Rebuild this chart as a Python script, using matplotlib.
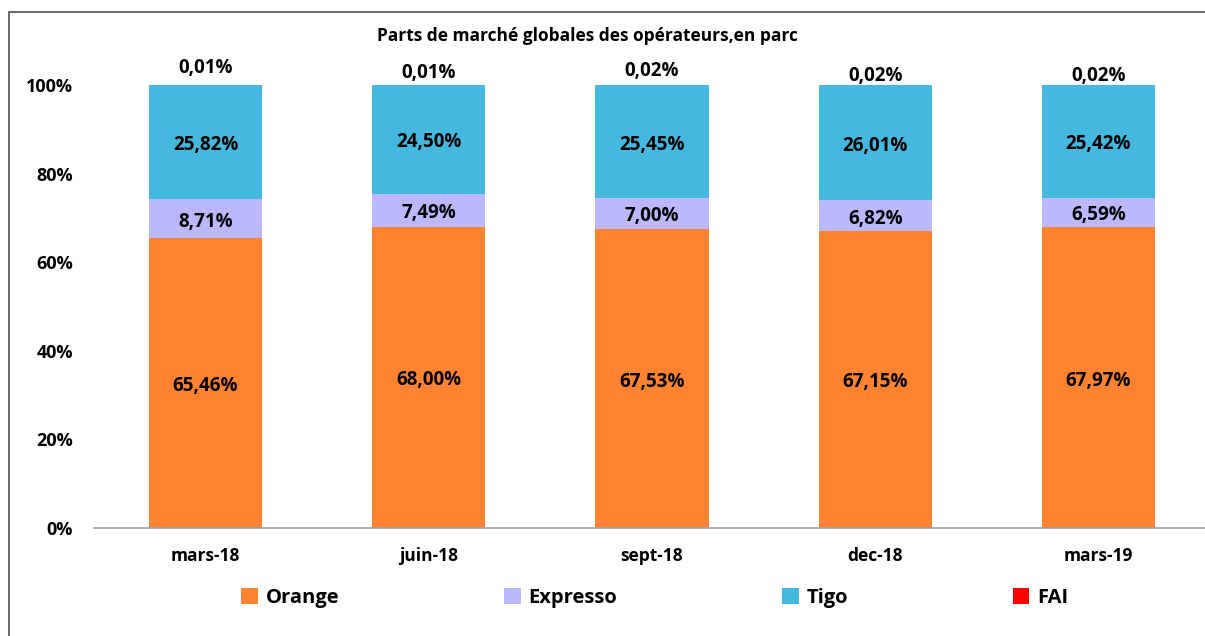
import matplotlib.pyplot as plt
import numpy as np

periodes = ["mars-18", "juin-18", "sept-18", "dec-18", "mars-19"]
orange = [65.46, 68.00, 67.53, 67.15, 67.97]
expresso = [8.71, 7.49, 7.00, 6.82, 6.59]
tigo = [25.82, 24.50, 25.45, 26.01, 25.42]
fai = [0.01, 0.01, 0.02, 0.02, 0.02]

series = [("Orange", orange, "#FF8330"),
          ("Expresso", expresso, "#BBB8FF"),
          ("Tigo", tigo, "#44B8DE"),
          ("FAI", fai, "#FF0000")]

# decalage des etiquettes FAI au-dessus des barres (en points de %)
fai_offset = [4.5, 3.2, 3.8, 2.7, 2.7]

plt.rcParams['font.family'] = ['Open Sans', 'DejaVu Sans']
plt.rcParams['font.weight'] = 'bold'

fig = plt.figure(figsize=(12.05, 6.36), dpi=100)
ax = fig.add_axes([94 / 1205, 1 - 528 / 636, 1116 / 1205, 443 / 636])

x = np.arange(len(periodes))
bottom = np.zeros(len(periodes))
handles = []
for name, vals, col in series:
    vals = np.array(vals)
    b = ax.bar(x, vals, 0.507, bottom=bottom, color=col, label=name)
    handles.append(b)
    if name != "FAI":
        for xi, v, bt in zip(x, vals, bottom):
            ax.text(xi, bt + v / 2 - 0.7, f"{v:.2f}%".replace(".", ","), ha="center", va="center",
                    fontsize=13.5, fontweight="bold")
    else:
        for xi, v, bt, off in zip(x, vals, bottom, fai_offset):
            ax.text(xi, bt + v + off - 0.6, f"{v:.2f}%".replace(".", ","),
                    ha="center", va="center", fontsize=13.5, fontweight="bold")
    bottom = bottom + vals

ax.set_xlim(-0.5, 4.5)
ax.set_ylim(0, 100)
ax.set_yticks(range(0, 101, 20))
ax.set_yticklabels([f"{t}%" for t in range(0, 101, 20)], fontsize=13, fontweight="bold")
ax.set_xticks(x)
ax.set_xticklabels(periodes, fontsize=12.5, fontweight="bold")
ax.tick_params(length=0)
ax.tick_params(axis="y", pad=15)
ax.tick_params(axis="x", pad=14)
for s in ["top", "right", "left"]:
    ax.spines[s].set_visible(False)
ax.spines["bottom"].set_color("#A0A0A0")
ax.spines["bottom"].set_linewidth(1.2)

fig.text(587 / 1205, 1 - 36 / 636, "Parts de marché globales des opérateurs,en parc",
         ha="center", va="center", fontsize=12.5, fontweight="bold")

fig.legend(handles=handles, loc="center", bbox_to_anchor=(655 / 1205, 1 - 598 / 636), ncol=4,
           frameon=False, handlelength=0.8, handleheight=0.8,
           handletextpad=0.4, columnspacing=8.2, prop={"weight": "bold", "size": 14.5})

# cadre autour du graphique
border = plt.Rectangle((9 / 1205, -0.1), 1.2, 1 - 12 / 636 + 0.1, transform=fig.transFigure,
                       fill=False, edgecolor="#505050", linewidth=1.2)
fig.patches.append(border)

fig.savefig("out.png", dpi=100)
